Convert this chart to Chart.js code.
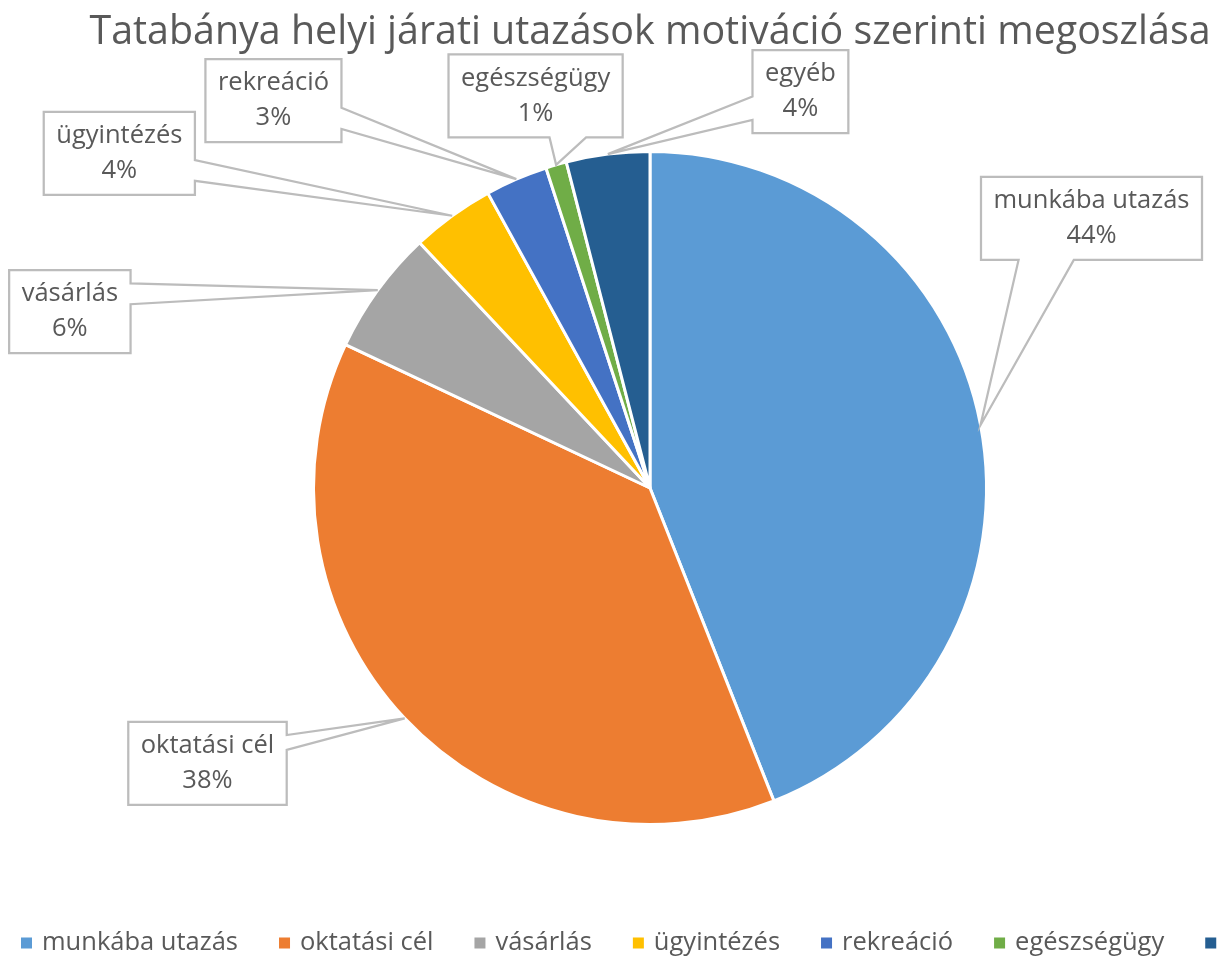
<!DOCTYPE html>
<html>
<head>
<meta charset="utf-8">
<script src="https://cdn.jsdelivr.net/npm/chart.js@4"></script>
<style>
  body { margin: 0; background: #fff; overflow: hidden; }
  #wrap { width: 1220px; height: 958px; position: relative; }
</style>
</head>
<body>
<div id="wrap"><canvas id="motivChart"></canvas></div>
<script>
const titleText = 'Tatabánya helyi járati utazások motiváció szerinti megoszlása';
const categories = ['munkába utazás', 'oktatási cél', 'vásárlás', 'ügyintézés', 'rekreáció', 'egészségügy', 'egyéb'];
const shares = [44, 38, 6, 4, 3, 1, 4];
const sliceColors = ['#5B9BD5', '#ED7D31', '#A5A5A5', '#FFC000', '#4472C4', '#70AD47', '#255E91'];

const fontFamily = "'Open Sans', 'Noto Sans', sans-serif";
const textColor = '#595959';
const labelSize = 25.5;
const lineH = 35;

// callout boxes: centre relative to pie centre (in radii), pointer edge and its span on that edge
const calloutLayout = [
  { dx: 1.312, dy: -0.801, edge: 'bottom', f0: 0.17, f1: 0.42 },
  { dx: -1.315, dy: 0.818, edge: 'right', f0: 0.16, f1: 0.34 },
  { dx: -1.724, dy: -0.524, edge: 'right', f0: 0.16, f1: 0.41 },
  { dx: -1.577, dy: -0.994, edge: 'right', f0: 0.58, f1: 0.83 },
  { dx: -1.119, dy: -1.151, edge: 'right', f0: 0.585, f1: 0.84 },
  { dx: -0.340, dy: -1.165, edge: 'bottom', f0: 0.58, f1: 0.79 },
  { dx: 0.447, dy: -1.178, edge: 'left', f0: 0.56, f1: 0.84 }
];

const calloutPlugin = {
  id: 'callouts',
  afterDatasetsDraw(chart) {
    const ctx = chart.ctx;
    const meta = chart.getDatasetMeta(0);
    const total = shares.reduce((a, b) => a + b, 0);
    ctx.save();
    ctx.font = labelSize + 'px ' + fontFamily;
    meta.data.forEach((arc, i) => {
      const p = arc.getProps(['x', 'y', 'startAngle', 'endAngle', 'outerRadius'], true);
      const mid = (p.startAngle + p.endAngle) / 2;
      const tx = p.x + Math.cos(mid) * p.outerRadius;
      const ty = p.y + Math.sin(mid) * p.outerRadius;
      const lay = calloutLayout[i];
      const cx = p.x + lay.dx * p.outerRadius;
      const cy = p.y + lay.dy * p.outerRadius;
      const l1 = categories[i];
      const l2 = Math.round(shares[i] / total * 100) + '%';
      const w = Math.max(ctx.measureText(l1).width, ctx.measureText(l2).width) + 25;
      const h = 2 * lineH + 13;
      const x0 = cx - w / 2, y0 = cy - h / 2, x1 = x0 + w, y1 = y0 + h;

      ctx.beginPath();
      ctx.moveTo(x0, y0);
      if (lay.edge === 'top') {
        ctx.lineTo(x0 + lay.f0 * w, y0); ctx.lineTo(tx, ty); ctx.lineTo(x0 + lay.f1 * w, y0);
      }
      ctx.lineTo(x1, y0);
      if (lay.edge === 'right') {
        ctx.lineTo(x1, y0 + lay.f0 * h); ctx.lineTo(tx, ty); ctx.lineTo(x1, y0 + lay.f1 * h);
      }
      ctx.lineTo(x1, y1);
      if (lay.edge === 'bottom') {
        ctx.lineTo(x0 + lay.f1 * w, y1); ctx.lineTo(tx, ty); ctx.lineTo(x0 + lay.f0 * w, y1);
      }
      ctx.lineTo(x0, y1);
      if (lay.edge === 'left') {
        ctx.lineTo(x0, y0 + lay.f1 * h); ctx.lineTo(tx, ty); ctx.lineTo(x0, y0 + lay.f0 * h);
      }
      ctx.closePath();
      ctx.fillStyle = '#fff';
      ctx.fill();
      ctx.lineWidth = 2.25;
      ctx.strokeStyle = '#BCBCBC';
      ctx.lineJoin = 'miter';
      ctx.stroke();

      ctx.fillStyle = textColor;
      ctx.textAlign = 'center';
      ctx.textBaseline = 'middle';
      ctx.fillText(l1, cx, cy - lineH / 2);
      ctx.fillText(l2, cx, cy + lineH / 2);
    });
    ctx.restore();
  }
};

// bottom legend, left aligned and running off the right edge like the original
const legendPlugin = {
  id: 'flatLegend',
  afterDraw(chart) {
    const ctx = chart.ctx;
    const y = 943;
    let x = 21;
    ctx.save();
    ctx.font = labelSize + 'px ' + fontFamily;
    ctx.textBaseline = 'middle';
    ctx.textAlign = 'left';
    chart.data.labels.forEach((lab, i) => {
      ctx.fillStyle = sliceColors[i];
      ctx.fillRect(x, y - 5.5, 11, 11);
      ctx.fillStyle = textColor;
      ctx.fillText(lab, x + 21, y);
      x += 21 + ctx.measureText(lab).width + 41;
    });
    ctx.restore();
  }
};

const motivChart = new Chart(document.getElementById('motivChart'), {
  type: 'pie',
  data: {
    labels: categories,
    datasets: [{
      data: shares,
      backgroundColor: sliceColors,
      borderColor: '#fff',
      borderWidth: 3
    }]
  },
  options: {
    responsive: true,
    maintainAspectRatio: false,
    animation: false,
    layout: { padding: { left: 80, right: 0, top: 0, bottom: 132 } },
    plugins: {
      legend: { display: false },
      tooltip: { enabled: false },
      title: {
        display: true,
        text: titleText,
        color: textColor,
        font: { family: fontFamily, size: 39.4, weight: 'normal', lineHeight: 1.2 },
        padding: { top: 9, bottom: 93.7 }
      }
    }
  },
  plugins: [calloutPlugin, legendPlugin]
});
</script>
</body>
</html>
